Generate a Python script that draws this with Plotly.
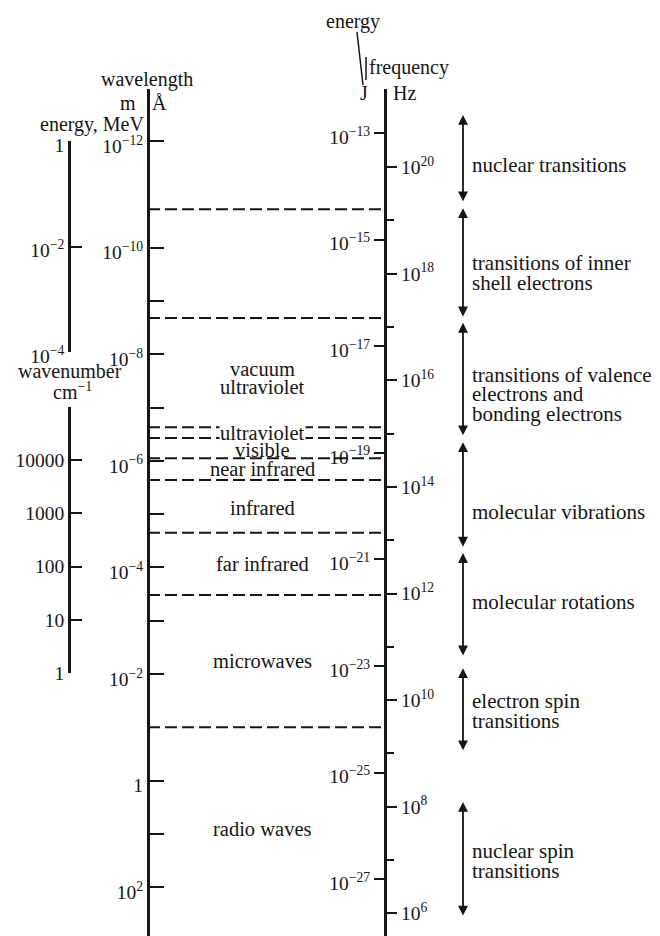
import plotly.graph_objects as go

# ---------------- data ----------------
# wavelength axis (log10 of metres)
wl_tick_exp = [-12, -10, -9, -8, -7, -6, -5, -4, -3, -2, 0, 1, 2]
wl_tick_text = ["10<sup>−12</sup>", "10<sup>−10</sup>", "", "10<sup>−8</sup>", "",
                "10<sup>−6</sup>", "", "10<sup>−4</sup>", "", "10<sup>−2</sup>", "1", "",
                "10<sup>2</sup>"]

# frequency axis (log10 Hz)
freq_major_exp = [6, 8, 10, 12, 14, 16, 18, 20]
freq_major_text = ["10<sup>%d</sup>" % e for e in freq_major_exp]
freq_minor_exp = [7, 9, 11, 13, 15, 17, 19]
FREQ_OFFSET = 8.49          # log10(nu) = FREQ_OFFSET - log10(lambda)

# energy axis (log10 J)
energy_exp = [-27, -25, -23, -21, -19, -17, -15, -13]
energy_text = ["10<sup>−%d</sup>" % (-e) for e in energy_exp]
ENERGY_OFFSET = -25.15      # log10(E) = ENERGY_OFFSET - log10(lambda)

# energy in MeV (log10)
mev_exp = [0, -2, -4]
mev_text = ["1", "10<sup>−2</sup>", "10<sup>−4</sup>"]

# wavenumber (log10 cm^-1)
wn_exp = [0, 1, 2, 3, 4, 5]
wn_text = ["1", "10", "100", "1000", "10000", ""]

# region boundaries (log10 wavelength, m)
region_bounds = [-10.72, -8.68, -6.63, -6.43, -6.05, -5.64, -4.65, -3.48, -1.0]
region_names = ["vacuum", "ultraviolet", "ultraviolet", "visible", "near infrared",
                "infrared", "far infrared", "microwaves", "radio waves"]
region_pos = [-7.72, -7.38, -6.53, -6.21, -5.845, -5.12, -4.07, -2.24, 0.90]

# transitions (log10 Hz ranges) and labels
trans_hi = [20.98, 19.23, 17.08, 14.84, 12.76, 10.60, 8.09]
trans_lo = [19.33, 17.17, 14.94, 12.85, 10.81, 9.03, 5.93]
trans_label = [["nuclear transitions"],
               ["transitions of inner", "shell electrons"],
               ["transitions of valence", "electrons and", "bonding electrons"],
               ["molecular vibrations"],
               ["molecular rotations"],
               ["electron spin", "transitions"],
               ["nuclear spin", "transitions"]]
trans_label_pos = [20.04, 18.01, 15.74, 13.53, 11.84, 9.80, 6.98]

# ---------------- layout geometry ----------------
W, H = 660, 936
OFF = 8                     # page margin around the plot div
FONT = "Liberation Serif"
INK = "#151515"
TOP_PX = 89
PX_PER_DEC = 53.3
REF_PX = 141.0              # screen row of 10^-12 m
L_top = -12 + (TOP_PX - REF_PX) / PX_PER_DEC
L_bot = -12 + (H + OFF - REF_PX) / PX_PER_DEC
X_WL = 148
X_FR = 385
X_LEFT = 69


def py(px):
    return 1 - (px - OFF) / H


def pxf(x):
    return (x - OFF) / W


fig = go.Figure()
for ax in ["y", "y2", "y3", "y4", "y5"]:
    fig.add_trace(go.Scatter(x=[-50], y=[0], yaxis=ax, mode="markers",
                             marker=dict(opacity=0), showlegend=False, hoverinfo="skip"))

tickfont = dict(family=FONT, size=19.5, color=INK)
common = dict(showgrid=False, zeroline=False, showline=True, linecolor=INK,
              tickcolor=INK, tickfont=tickfont, tickmode="array", anchor="free",
              fixedrange=True, automargin=False)

dom = [0, py(TOP_PX)]
fig.update_layout(
    width=W, height=H, margin=dict(l=0, r=0, t=0, b=0, pad=0, autoexpand=False),
    paper_bgcolor="white", plot_bgcolor="rgba(0,0,0,0)", showlegend=False,
    xaxis=dict(range=[OFF, W + OFF], domain=[0, 1], visible=False, fixedrange=True,
               automargin=False),
    yaxis=dict(common, domain=dom, position=pxf(X_WL), side="left",
               range=[L_bot, L_top], tickvals=wl_tick_exp, ticktext=wl_tick_text,
               ticks="inside", ticklen=14, tickwidth=2, linewidth=3,
               ticklabelshift=-5),
    yaxis2=dict(common, overlaying="y", position=pxf(X_FR), side="right",
                range=[FREQ_OFFSET - L_bot, FREQ_OFFSET - L_top],
                tickvals=freq_major_exp, ticktext=freq_major_text,
                ticks="outside", ticklen=10, tickwidth=2, linewidth=3,
                minor=dict(tickmode="array", tickvals=freq_minor_exp, ticks="outside",
                           ticklen=7, tickwidth=2, tickcolor=INK)),
    yaxis3=dict(common, overlaying="y", position=pxf(X_FR), side="left",
                range=[ENERGY_OFFSET - L_bot, ENERGY_OFFSET - L_top],
                tickvals=energy_exp, ticktext=energy_text,
                ticks="outside", ticklen=10, tickwidth=2, linewidth=3,
                ticklabelshift=4),
    yaxis4=dict(common, domain=[py(352), py(REF_PX)], position=pxf(X_LEFT), side="left",
                range=[-4, 0], tickvals=mev_exp, ticktext=mev_text,
                ticks="inside", ticklen=11, tickwidth=2, linewidth=2.5,
                ticklabelshift=4),
    yaxis5=dict(common, domain=[py(673), py(407)], position=pxf(X_LEFT), side="left",
                range=[0, 5], tickvals=wn_exp, ticktext=wn_text,
                ticks="inside", ticklen=11, tickwidth=2, linewidth=2.5),
)

# dashed region boundaries
for b in region_bounds:
    fig.add_shape(type="line", xref="x", yref="y", x0=X_WL, x1=X_FR, y0=b, y1=b,
                  line=dict(color=INK, width=2, dash="12px,5px"), layer="below")

# region labels
for name, pos in zip(region_names, region_pos):
    bg = "white" if pos == -6.53 else "rgba(0,0,0,0)"
    fig.add_annotation(x=262, y=pos, xref="x", yref="y", text=name, showarrow=False,
                       font=dict(family=FONT, size=20.5, color=INK), bgcolor=bg,
                       borderpad=0, xanchor="center", yanchor="middle")

# transition arrows and labels
for hi, lo in zip(trans_hi, trans_lo):
    fig.add_annotation(x=463, y=hi, ax=463, ay=lo, xref="x", yref="y2",
                       axref="x", ayref="y2", text="", showarrow=True,
                       arrowhead=2, arrowside="end+start", arrowsize=1.1,
                       arrowwidth=1.8, arrowcolor=INK, standoff=0, startstandoff=0)
LINE_H = 19.5
for lines, pos in zip(trans_label, trans_label_pos):
    n = len(lines)
    for i, t in enumerate(lines):
        fig.add_annotation(x=470, y=pos, xref="x", yref="y2", text=t, showarrow=False,
                           xanchor="left", yanchor="middle",
                           yshift=-(i - (n - 1) / 2) * LINE_H,
                           font=dict(family=FONT, size=21, color=INK))

# headers
def label(x, y, text, anchor="center", size=20):
    fig.add_annotation(x=x, y=py(y), xref="x", yref="paper", text=text, showarrow=False,
                       xanchor=anchor, yanchor="middle",
                       font=dict(family=FONT, size=size, color=INK))


label(147, 80, "wavelength")
label(128, 103, "m")
label(159, 103, "Å")
label(146, 124, "energy, MeV", anchor="right")
label(70, 371, "wavenumber")
label(72, 391, "cm<sup>−1</sup>")
label(353, 22, "energy")
label(409, 67, "frequency")
label(364, 93, "J")
label(404, 93, "Hz")

fig.add_shape(type="line", xref="x", yref="paper", x0=357, x1=363,
              y0=py(32), y1=py(85), line=dict(color=INK, width=1.5))
fig.add_shape(type="line", xref="x", yref="paper", x0=366, x1=366,
              y0=py(57), y1=py(80), line=dict(color=INK, width=1.5))

fig.write_html("out.html")
